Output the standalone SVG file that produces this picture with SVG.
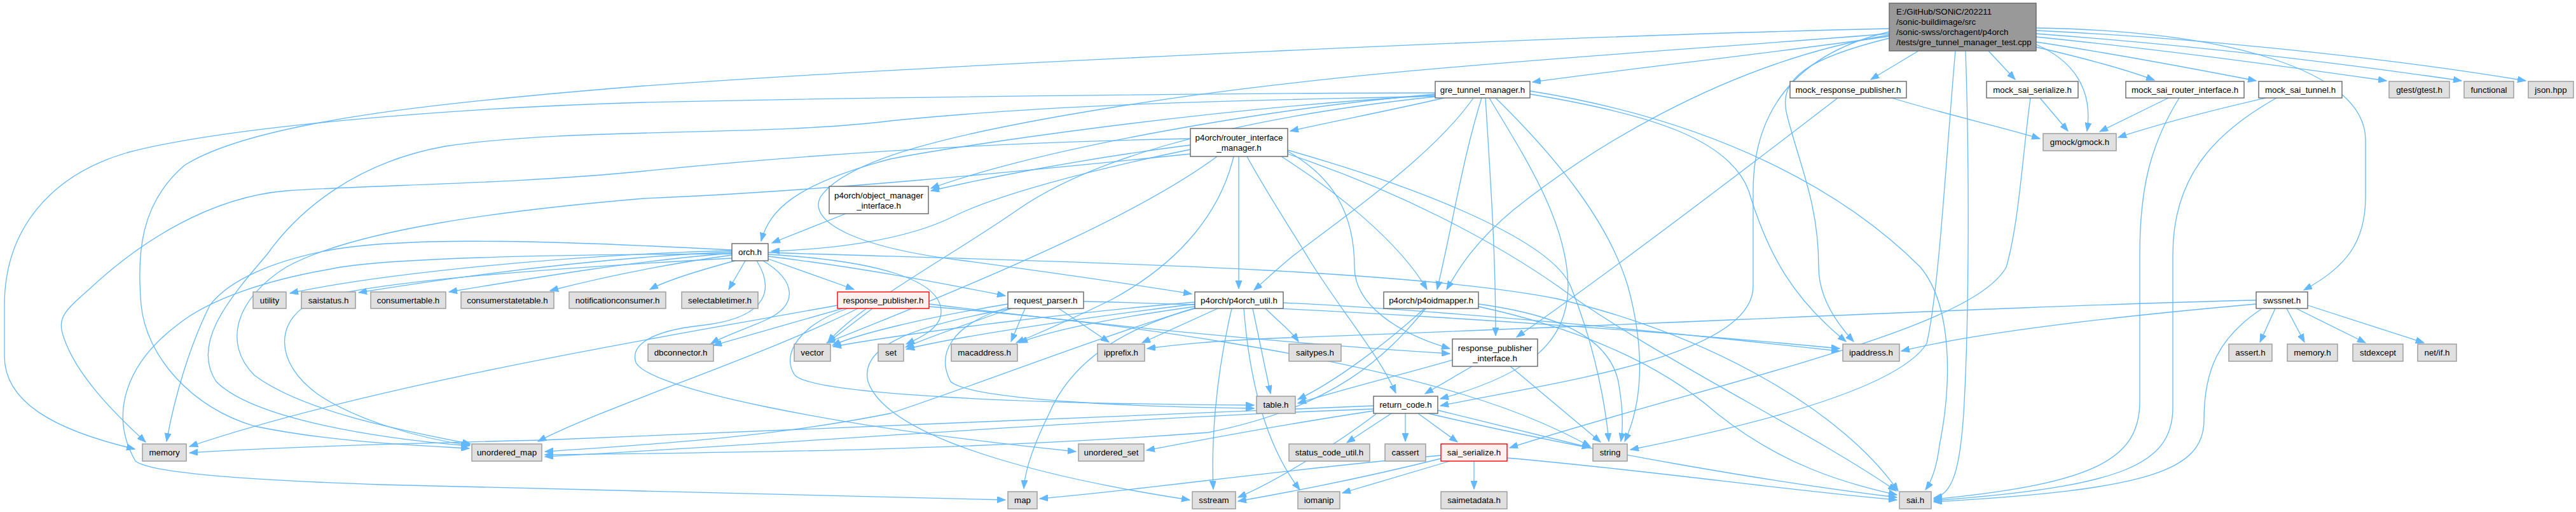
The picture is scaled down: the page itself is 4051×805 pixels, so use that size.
<svg xmlns="http://www.w3.org/2000/svg" width="4051" height="805" viewBox="0 0 4051 805">
<style>
.e path{fill:none;stroke:#63b8ff;stroke-width:1.3;marker-end:url(#ah)}
.nw rect{fill:#ffffff;stroke:#666666;stroke-width:1.4}
.ng rect{fill:#e0e0e0;stroke:#999999;stroke-width:1.4}
.nr rect{fill:#fff0f0;stroke:#ff0000;stroke-width:1.4}
.nm rect{fill:#999999;stroke:#666666;stroke-width:1.4}
text{font-family:"Liberation Sans",Arial,Helvetica,sans-serif;font-size:13.33px;text-anchor:middle;fill:#000000}
.nm text{text-anchor:start}
</style>
<defs>
<marker id="ah" markerWidth="14" markerHeight="10" refX="13" refY="5" orient="auto" markerUnits="userSpaceOnUse">
<path d="M0,0 L13,5 L0,10 Z" fill="#63b8ff" stroke="#63b8ff" stroke-width="1"/>
</marker>
</defs>
<rect x="0" y="0" width="4051" height="805" fill="#ffffff"/>
<g id="edges" class="e">
<path d="M2971,57 C2800,82 2560,108 2410,129"/>
<path d="M3017,80 L2942,125"/>
<path d="M3127,80 L3169,125"/>
<path d="M3202,74 C3280,92 3345,110 3388,126"/>
<path d="M3202,66 C3330,85 3460,110 3548,127"/>
<path d="M3202,58 C3420,80 3620,108 3753,127"/>
<path d="M3202,53 C3460,72 3700,102 3871,127"/>
<path d="M3202,48 C3500,62 3800,98 3972,127"/>
<path d="M3202,70 C3260,95 3292,140 3282,206"/>
<path d="M3202,44 C3500,48 3720,110 3720,220 L3720,310 C3720,380 3690,420 3623,456"/>
<path d="M3091,80 C3097,250 3097,500 3088,650 C3082,740 3070,778 3041,783"/>
<path d="M3075,80 C3060,250 3050,450 3030,540 C2980,620 2700,680 2564,707"/>
<path d="M2971,60 C2850,90 2795,120 2810,180 C2830,260 2860,320 2860,420 C2860,470 2890,510 2915,537"/>
<path d="M2971,50 C2800,90 2757,200 2757,300 L2757,450 C2757,560 2450,600 2265,638"/>
<path d="M2971,55 C2700,100 2480,250 2380,330 C2320,380 2295,420 2275,455"/>
<path d="M2971,53 C2500,90 2100,110 1724,173 C1500,210 1330,250 1290,310 C1270,350 1350,390 1517,410 C1700,435 1800,450 1874,462"/>
<path d="M2971,45 C2500,55 1500,100 1013,135 C700,160 400,190 290,260 C220,320 215,400 222,480 C230,560 300,640 400,670 C520,695 650,700 738,705"/>
<path d="M2975,154 C3060,180 3150,200 3208,218"/>
<path d="M2890,154 C2700,300 2500,450 2385,530"/>
<path d="M3208,154 L3252,206"/>
<path d="M3193,154 C3180,250 3175,350 3155,420 C3100,520 2700,600 2374,704"/>
<path d="M3410,154 L3302,207"/>
<path d="M3427,154 C3380,230 3365,300 3365,400 L3365,630 C3365,720 3300,760 3041,785"/>
<path d="M3563,154 C3450,180 3380,200 3331,216"/>
<path d="M3580,154 C3480,210 3417,280 3417,400 L3417,640 C3417,730 3340,765 3041,787"/>
<path d="M3578,485 L3554,538"/>
<path d="M3596,485 L3624,538"/>
<path d="M3611,485 L3720,539"/>
<path d="M3629,480 L3812,539"/>
<path d="M3556,486 C3490,530 3466,580 3466,660 C3466,740 3380,770 3041,789"/>
<path d="M3548,478 C3300,500 3100,525 2990,552"/>
<path d="M3548,472 C3200,480 2600,510 2026,531 C1900,536 1850,542 1804,548"/>
<path d="M2271,154 C2180,175 2100,190 2029,206"/>
<path d="M2257,148 C2000,170 1650,230 1464,296"/>
<path d="M2257,150 C1900,170 1500,230 1400,250 C1250,290 1210,330 1197,379"/>
<path d="M2257,146 C2100,146 1500,150 1013,161 C700,170 350,200 200,240 C80,275 7,360 7,480 L7,560 C7,630 80,675 212,706"/>
<path d="M2257,151 C2000,158 1700,160 1400,190 C1200,215 900,200 700,230 C560,255 470,330 420,400 C360,470 300,540 340,600 C400,660 600,690 738,701"/>
<path d="M2257,152 C1900,190 1700,260 1600,330 C1500,400 1350,480 1302,538"/>
<path d="M2317,154 C2250,250 2100,350 2030,405 C2000,430 1985,445 1972,456"/>
<path d="M2330,154 C2300,250 2285,350 2260,455"/>
<path d="M2336,154 C2345,300 2352,400 2352,528"/>
<path d="M2342,154 C2400,250 2465,350 2466,450 C2466,540 2400,590 2265,627"/>
<path d="M2352,154 C2450,250 2530,350 2560,450 C2590,560 2580,640 2555,694"/>
<path d="M2406,148 C2600,180 2720,220 2750,300 C2780,400 2820,470 2903,537"/>
<path d="M2406,143 C2700,190 2900,300 3020,420 C3070,480 3070,600 3050,700 C3045,740 3035,760 3028,770"/>
<path d="M1872,228 C1700,250 1550,280 1464,300"/>
<path d="M1872,235 C1700,270 1560,310 1500,340 C1420,380 1300,392 1213,395"/>
<path d="M1872,218 C1500,225 1200,250 1013,269 C800,290 600,290 450,300 C330,310 220,380 140,455 C100,490 90,500 100,530 C120,590 180,650 229,695"/>
<path d="M1948,246 L1948,454"/>
<path d="M1961,246 C1990,300 2030,360 2060,410 C2110,490 2170,560 2195,618"/>
<path d="M2025,238 C2100,280 2130,340 2130,420 C2130,480 2200,525 2280,548"/>
<path d="M2015,246 C2100,300 2200,380 2244,455"/>
<path d="M2025,242 C2200,300 2350,380 2450,450 C2600,560 2850,680 2982,772"/>
<path d="M2025,236 C2250,300 2440,380 2470,450 C2510,550 2525,640 2530,694"/>
<path d="M1914,246 C1800,330 1600,420 1300,539"/>
<path d="M1940,246 C1920,330 1860,410 1750,470 C1680,505 1630,525 1598,539"/>
<path d="M1872,242 C1600,270 1300,300 1013,312 C800,330 560,360 450,420 C370,470 350,540 400,590 C480,650 650,680 740,698"/>
<path d="M1330,336 L1214,382"/>
<path d="M1151,394 C900,400 600,430 456,461"/>
<path d="M1151,396 C950,405 750,430 564,460"/>
<path d="M1151,398 C1000,410 850,435 706,459"/>
<path d="M1151,401 C1050,415 950,435 865,457"/>
<path d="M1156,410 C1100,425 1050,440 1022,455"/>
<path d="M1172,410 L1146,455"/>
<path d="M1208,407 L1343,455"/>
<path d="M1208,403 C1350,420 1480,445 1581,465"/>
<path d="M1151,393 C900,380 650,370 520,393 C430,410 360,440 330,480 C300,540 275,620 262,694"/>
<path d="M1151,399 C900,400 600,405 520,423 C420,440 330,470 280,510 C200,570 170,650 213,725 C240,745 400,755 600,762 C1000,772 1400,780 1581,786"/>
<path d="M1151,406 C900,420 600,440 500,470 C430,500 430,570 500,620 C560,660 660,690 739,700"/>
<path d="M1190,410 C1215,450 1215,500 1100,512 C1030,520 990,540 1000,570 C1020,610 1300,670 1692,710"/>
<path d="M1208,400 C1380,410 1480,440 1480,490 C1480,515 1450,530 1425,541"/>
<path d="M1200,410 C1250,440 1260,480 1200,505 C1170,518 1140,528 1118,540"/>
<path d="M1208,397 C1600,410 2200,420 2450,470 C2700,530 2900,650 2985,772"/>
<path d="M1317,480 C1100,520 600,600 298,702"/>
<path d="M1325,485 L1122,543"/>
<path d="M1349,485 C1200,560 950,640 846,694"/>
<path d="M1372,485 L1301,539"/>
<path d="M1333,485 C1258,510 1227,557 1250,590 C1280,620 1600,635 1972,637"/>
<path d="M1461,478 C1800,520 2100,545 2280,556"/>
<path d="M1461,482 C1800,510 2100,560 2300,620 C2400,650 2460,680 2501,702"/>
<path d="M1585,478 C1450,500 1350,525 1309,543"/>
<path d="M1590,485 C1520,510 1460,530 1424,546"/>
<path d="M1612,485 L1590,537"/>
<path d="M1665,485 L1744,538"/>
<path d="M1704,474 C2000,480 2500,510 2893,548"/>
<path d="M1586,483 C1495,510 1472,557 1495,600 C1530,630 1800,640 1972,642"/>
<path d="M1590,485 C1450,510 1350,540 1365,600 C1400,700 1700,760 1871,786"/>
<path d="M1915,485 L1796,539"/>
<path d="M1879,475 C1700,490 1450,520 1310,545"/>
<path d="M1879,478 C1700,500 1500,530 1425,549"/>
<path d="M1879,482 C1750,500 1650,520 1603,539"/>
<path d="M1879,484 C1700,540 1550,600 1400,650 C1200,690 1000,700 857,710"/>
<path d="M1937,485 C1910,600 1905,700 1908,769"/>
<path d="M1956,485 C1965,600 1990,700 2044,770"/>
<path d="M1970,485 L1998,619"/>
<path d="M1990,485 C2010,505 2030,520 2042,537"/>
<path d="M2018,476 C2300,490 2600,520 2893,552"/>
<path d="M1879,485 C1750,520 1680,580 1650,650 C1625,700 1612,740 1610,768"/>
<path d="M2240,485 C2180,540 2100,600 2041,628"/>
<path d="M2242,485 C2180,560 2100,640 1900,680 C1500,710 1100,712 857,715"/>
<path d="M2325,478 C2450,495 2530,530 2545,600 C2552,640 2553,670 2549,694"/>
<path d="M2325,482 C2500,520 2620,580 2700,650 C2800,730 2900,760 2983,778"/>
<path d="M2284,566 C2200,590 2100,615 2041,634"/>
<path d="M2315,576 L2241,619"/>
<path d="M2375,576 L2517,695"/>
<path d="M2160,638 C1800,650 1200,680 852,692 C600,698 400,705 298,712"/>
<path d="M2160,643 C1700,660 1200,700 857,718"/>
<path d="M2160,646 C2000,670 1900,690 1803,708"/>
<path d="M2165,650 C2100,700 2000,760 1947,782"/>
<path d="M2188,650 L2118,696"/>
<path d="M2210,650 L2210,694"/>
<path d="M2230,650 L2292,695"/>
<path d="M2246,650 C2500,710 2800,760 2983,782"/>
<path d="M2261,645 L2501,704"/>
<path d="M2266,716 C2000,740 1800,770 1635,784"/>
<path d="M2270,720 C2150,750 2050,770 1947,788"/>
<path d="M2280,725 L2111,775"/>
<path d="M2318,725 L2318,769"/>
<path d="M2370,720 C2600,740 2800,770 2983,786"/>
</g>
<g id="nodes">
<g id="n_main" class="nm"><rect x="2971" y="5" width="231" height="75"/><text x="2982" y="23">E:/GitHub/SONiC/202211</text><text x="2982" y="39">/sonic-buildimage/src</text><text x="2982" y="55">/sonic-swss/orchagent/p4orch</text><text x="2982" y="71">/tests/gre_tunnel_manager_test.cpp</text></g>
<g id="n_gre" class="nw"><rect x="2257" y="128" width="149" height="26"/><text x="2331.5" y="146">gre_tunnel_manager.h</text></g>
<g id="n_mrp" class="nw"><rect x="2815" y="128" width="183" height="26"/><text x="2906.5" y="146">mock_response_publisher.h</text></g>
<g id="n_mss" class="nw"><rect x="3124" y="128" width="144" height="26"/><text x="3196" y="146">mock_sai_serialize.h</text></g>
<g id="n_msri" class="nw"><rect x="3343" y="128" width="186" height="26"/><text x="3436" y="146">mock_sai_router_interface.h</text></g>
<g id="n_mst" class="nw"><rect x="3552" y="128" width="131" height="26"/><text x="3617.5" y="146">mock_sai_tunnel.h</text></g>
<g id="n_gtest" class="ng"><rect x="3757" y="128" width="95" height="26"/><text x="3804.5" y="146">gtest/gtest.h</text></g>
<g id="n_functional" class="ng"><rect x="3875" y="128" width="78" height="26"/><text x="3914" y="146">functional</text></g>
<g id="n_json" class="ng"><rect x="3976" y="128" width="71" height="26"/><text x="4011.5" y="146">json.hpp</text></g>
<g id="n_gmock" class="ng"><rect x="3213" y="210" width="115" height="27"/><text x="3270.5" y="228">gmock/gmock.h</text></g>
<g id="n_rim" class="nw"><rect x="1872" y="202" width="153" height="44"/><text x="1948.5" y="221">p4orch/router_interface</text><text x="1948.5" y="237">_manager.h</text></g>
<g id="n_omi" class="nw"><rect x="1304" y="293" width="156" height="43"/><text x="1382" y="312">p4orch/object_manager</text><text x="1382" y="328">_interface.h</text></g>
<g id="n_orch" class="nw"><rect x="1151" y="383" width="57" height="27"/><text x="1179.5" y="401">orch.h</text></g>
<g id="n_utility" class="ng"><rect x="398" y="459" width="52" height="26"/><text x="424" y="477">utility</text></g>
<g id="n_saistatus" class="ng"><rect x="474" y="459" width="85" height="26"/><text x="516.5" y="477">saistatus.h</text></g>
<g id="n_consumertable" class="ng"><rect x="583" y="459" width="118" height="26"/><text x="642" y="477">consumertable.h</text></g>
<g id="n_consumerstatetable" class="ng"><rect x="725" y="459" width="146" height="26"/><text x="798" y="477">consumerstatetable.h</text></g>
<g id="n_notificationconsumer" class="ng"><rect x="895" y="459" width="152" height="26"/><text x="971" y="477">notificationconsumer.h</text></g>
<g id="n_selectabletimer" class="ng"><rect x="1072" y="459" width="120" height="26"/><text x="1132" y="477">selectabletimer.h</text></g>
<g id="n_response_publisher" class="nr"><rect x="1317" y="459" width="144" height="26"/><text x="1389" y="477">response_publisher.h</text></g>
<g id="n_request_parser" class="nw"><rect x="1585" y="459" width="119" height="26"/><text x="1644.5" y="477">request_parser.h</text></g>
<g id="n_p4orch_util" class="nw"><rect x="1879" y="459" width="139" height="26"/><text x="1948.5" y="477">p4orch/p4orch_util.h</text></g>
<g id="n_p4oidmapper" class="nw"><rect x="2176" y="459" width="149" height="26"/><text x="2250.5" y="477">p4orch/p4oidmapper.h</text></g>
<g id="n_swssnet" class="nw"><rect x="3548" y="459" width="81" height="26"/><text x="3588.5" y="477">swssnet.h</text></g>
<g id="n_dbconnector" class="ng"><rect x="1019" y="541" width="103" height="27"/><text x="1070.5" y="559">dbconnector.h</text></g>
<g id="n_vector" class="ng"><rect x="1249" y="541" width="57" height="27"/><text x="1277.5" y="559">vector</text></g>
<g id="n_set" class="ng"><rect x="1381" y="541" width="40" height="27"/><text x="1401" y="559">set</text></g>
<g id="n_macaddress" class="ng"><rect x="1496" y="541" width="104" height="27"/><text x="1548" y="559">macaddress.h</text></g>
<g id="n_ipprefix" class="ng"><rect x="1726" y="541" width="74" height="27"/><text x="1763" y="559">ipprefix.h</text></g>
<g id="n_saitypes" class="ng"><rect x="2027" y="541" width="82" height="27"/><text x="2068" y="559">saitypes.h</text></g>
<g id="n_rpi" class="nw"><rect x="2284" y="533" width="134" height="43"/><text x="2351" y="552">response_publisher</text><text x="2351" y="568">_interface.h</text></g>
<g id="n_ipaddress" class="ng"><rect x="2898" y="541" width="89" height="27"/><text x="2942.5" y="559">ipaddress.h</text></g>
<g id="n_assert" class="ng"><rect x="3505" y="541" width="68" height="27"/><text x="3539" y="559">assert.h</text></g>
<g id="n_memory_h" class="ng"><rect x="3597" y="541" width="79" height="27"/><text x="3636.5" y="559">memory.h</text></g>
<g id="n_stdexcept" class="ng"><rect x="3700" y="541" width="79" height="27"/><text x="3739.5" y="559">stdexcept</text></g>
<g id="n_netif" class="ng"><rect x="3802" y="541" width="61" height="27"/><text x="3832.5" y="559">net/if.h</text></g>
<g id="n_table" class="ng"><rect x="1976" y="623" width="61" height="27"/><text x="2006.5" y="641">table.h</text></g>
<g id="n_return_code" class="nw"><rect x="2160" y="623" width="101" height="27"/><text x="2210.5" y="641">return_code.h</text></g>
<g id="n_memory" class="ng"><rect x="224" y="698" width="69" height="27"/><text x="258.5" y="716">memory</text></g>
<g id="n_unordered_map" class="ng"><rect x="742" y="698" width="110" height="27"/><text x="797" y="716">unordered_map</text></g>
<g id="n_unordered_set" class="ng"><rect x="1696" y="698" width="103" height="27"/><text x="1747.5" y="716">unordered_set</text></g>
<g id="n_status_code_util" class="ng"><rect x="2027" y="698" width="127" height="27"/><text x="2090.5" y="716">status_code_util.h</text></g>
<g id="n_cassert" class="ng"><rect x="2178" y="698" width="64" height="27"/><text x="2210" y="716">cassert</text></g>
<g id="n_sai_serialize" class="nr"><rect x="2266" y="698" width="104" height="27"/><text x="2318" y="716">sai_serialize.h</text></g>
<g id="n_string" class="ng"><rect x="2505" y="698" width="54" height="27"/><text x="2532" y="716">string</text></g>
<g id="n_map" class="ng"><rect x="1585" y="773" width="46" height="27"/><text x="1608" y="791">map</text></g>
<g id="n_sstream" class="ng"><rect x="1875" y="773" width="68" height="27"/><text x="1909" y="791">sstream</text></g>
<g id="n_iomanip" class="ng"><rect x="2041" y="773" width="66" height="27"/><text x="2074" y="791">iomanip</text></g>
<g id="n_saimetadata" class="ng"><rect x="2266" y="773" width="104" height="27"/><text x="2318" y="791">saimetadata.h</text></g>
<g id="n_sai" class="ng"><rect x="2987" y="773" width="50" height="27"/><text x="3012" y="791">sai.h</text></g>
</g>
</svg>
